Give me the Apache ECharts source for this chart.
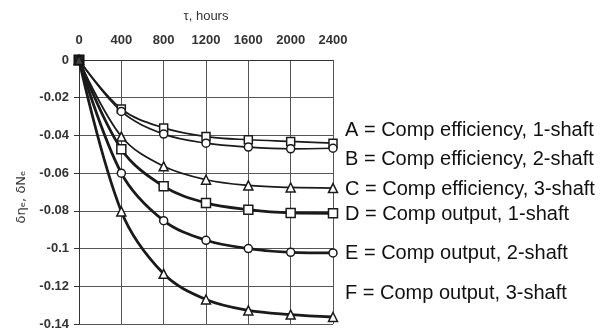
<!DOCTYPE html>
<html>
<head>
<meta charset="utf-8">
<script src="https://cdn.jsdelivr.net/npm/echarts@6/dist/echarts.min.js"></script>
<style>
  html, body { margin: 0; padding: 0; background: #fff; }
  #chart { width: 609px; height: 331px; }
</style>
</head>
<body>
<div id="chart"></div>
<script>
// Operating time, hours
const hours = [0, 400, 800, 1200, 1600, 2000, 2400];

// Relative deterioration of compressor efficiency and output
const compEff1 = [0, -0.026, -0.036, -0.0406, -0.0423, -0.0432, -0.0441];
const compEff2 = [0, -0.0273, -0.0393, -0.0441, -0.0462, -0.0471, -0.0468];
const compEff3 = [0, -0.0406, -0.0564, -0.0635, -0.0665, -0.0676, -0.0679];
const compOut1 = [0, -0.0473, -0.067, -0.0758, -0.0794, -0.0811, -0.0813];
const compOut2 = [0, -0.060, -0.0852, -0.0956, -0.100, -0.102, -0.1023];
const compOut3 = [0, -0.0803, -0.1134, -0.127, -0.1328, -0.135, -0.1363];

const legendLines = [
  'A = Comp efficiency, 1-shaft',
  'B = Comp efficiency, 2-shaft',
  'C = Comp efficiency, 3-shaft',
  'D = Comp output, 1-shaft',
  'E = Comp output, 2-shaft',
  'F = Comp output, 3-shaft'
];
const legendY = [130, 159, 189, 214, 253, 293];
const yTitle = 'δηₑ, δNₑ';

const chart = echarts.init(document.getElementById('chart'), null, { renderer: 'canvas' });

function pairs(vals) {
  return hours.map((h, i) => [h, vals[i]]);
}

function curve(name, vals, symbol, size, width) {
  return {
    name: name,
    type: 'line',
    data: pairs(vals),
    smooth: 0.35,
    symbol: symbol,
    symbolSize: size,
    showAllSymbol: true,
    lineStyle: { color: '#1a1a1a', width: width },
    itemStyle: { color: '#fff', borderColor: '#1a1a1a', borderWidth: 1.5 },
    emphasis: { disabled: true },
    z: 3
  };
}

const tickFont = { fontFamily: 'Liberation Sans', fontSize: 13, fontWeight: 'bold', color: '#333' };

const option = {
  backgroundColor: '#fff',
  animation: false,
  grid: { left: 79, right: 276, top: 60, bottom: 7 },
  xAxis: {
    type: 'value',
    position: 'top',
    min: 0, max: 2400, interval: 400,
    name: 'τ, hours',
    nameLocation: 'middle',
    nameGap: 37,
    nameTextStyle: { fontFamily: 'Liberation Sans', fontSize: 13, color: '#333' },
    axisLine: { show: true, lineStyle: { color: '#333', width: 1 } },
    axisTick: { show: false },
    axisLabel: Object.assign({ margin: 13, formatter: v => String(v) }, tickFont),
    splitLine: { show: true, lineStyle: { color: '#555', width: 1 } }
  },
  yAxis: {
    type: 'value',
    min: -0.14, max: 0, interval: 0.02,
    axisLine: { show: true, lineStyle: { color: '#333', width: 1 } },
    axisTick: { show: true, length: 5, lineStyle: { color: '#333' } },
    axisLabel: Object.assign({
      margin: 10,
      formatter: v => (Math.round(v * 100) / 100).toString()
    }, tickFont),
    splitLine: { show: true, lineStyle: { color: '#555', width: 1 } }
  },
  series: [
    curve('A', compEff1, 'rect', 8, 1.7),
    curve('B', compEff2, 'circle', 8, 1.7),
    curve('C', compEff3, 'triangle', 9, 1.7),
    curve('D', compOut1, 'rect', 9, 2.8),
    curve('E', compOut2, 'circle', 8, 2.8),
    curve('F', compOut3, 'triangle', 9, 2.8),
    {
      type: 'scatter',
      data: [[hours[0], 0]],
      symbol: 'rect',
      symbolSize: 11,
      itemStyle: { color: '#111' },
      z: 5,
      silent: true
    }
  ],
  graphic: legendLines.map((t, i) => ({
    type: 'text',
    x: 345,
    y: legendY[i],
    style: {
      text: t,
      fontFamily: 'Liberation Sans',
      fontSize: 20,
      fill: '#111',
      verticalAlign: 'middle'
    }
  })).concat([{
    type: 'text',
    x: 22,
    y: 197,
    rotation: Math.PI / 2,
    style: {
      text: yTitle,
      fontFamily: 'DejaVu Sans',
      fontSize: 13,
      fill: '#333',
      align: 'center',
      verticalAlign: 'middle'
    }
  }])
};

chart.setOption(option);
</script>
</body>
</html>
